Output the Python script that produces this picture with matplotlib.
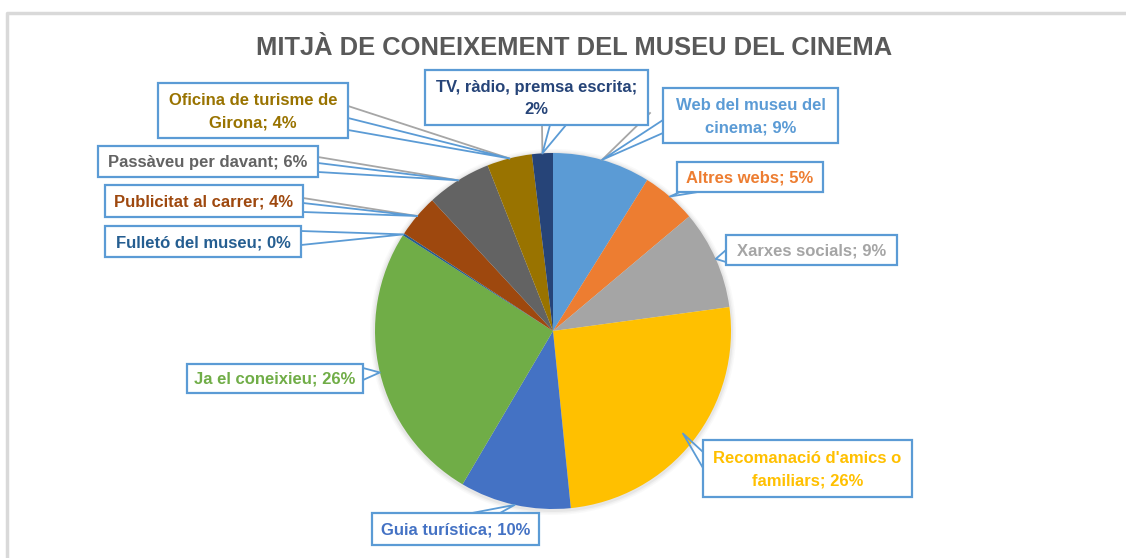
import matplotlib.pyplot as plt
from matplotlib.patches import Rectangle, Circle
import numpy as np

W, H = 1126, 558

names = ["Web del museu del\ncinema", "Altres webs", "Xarxes socials",
         "Recomanació d'amics o\nfamiliars", "Guia turística", "Ja el coneixieu",
         "Fulletó del museu", "Publicitat al carrer", "Passàveu per davant",
         "Oficina de turisme de\nGirona", "TV, ràdio, premsa escrita"]
values = [8.9, 5.0, 9.0, 25.6, 10.1, 25.6, 0.2, 3.9, 5.9, 4.1, 1.9]
colors = ["#5B9BD5", "#ED7D31", "#A5A5A5", "#FFC000", "#4472C4", "#70AD47",
          "#255E91", "#9E480E", "#636363", "#997300", "#264478"]

# label boxes in pixels (x0, y0, x1, y1), y downwards
boxes = [(663, 88, 838, 143), (677, 162, 823, 192), (726, 235, 897, 265),
         (703, 440, 912, 497), (372, 513, 539, 545), (187, 364, 363, 393),
         (105, 226, 301, 257), (105, 185, 303, 217), (98, 146, 318, 177),
         (158, 83, 348, 138), (425, 70, 648, 125)]
# callout base points on the box edge, and optional grey leader start
bases = [((663, 120), (663, 133)), ((680, 192), (698, 192)), ((726, 250), (726, 262)),
         ((703, 452), (703, 468)), ((472, 513), (500, 513)), ((363, 368), (363, 380)),
         ((301, 231), (301, 245)), ((303, 203), (303, 212)), ((318, 163), (318, 172)),
         ((348, 118), (348, 130)), ((550, 125), (566, 125))]
greys = [(650, 113), None, None, None, None, None, None, (303, 198), (318, 157),
         (348, 106), (542, 125)]
# how far out along the radius each callout points
reach = [1.0, 1.0, 1.0, 0.93, 1.0, 1.0, 1.0, 1.0, 1.0, 1.0, 1.0]

CX, CY, R = 553, 331, 178
FONT = ['Liberation Sans', 'DejaVu Sans']


def P(x, y):
    return x, H - y


fig = plt.figure(figsize=(W / 100, H / 100), dpi=100)
ax = fig.add_axes([0, 0, 1, 1])

# soft shadow round the pie
for k, a in [(5, 0.04), (3.5, 0.06), (2, 0.09)]:
    ax.add_patch(Circle(P(CX, CY + 1), R + k, facecolor="#7F7F7F", alpha=a,
                        edgecolor="none", zorder=0))

wedges, _ = ax.pie(values, colors=colors, startangle=90, counterclock=False,
                   center=P(CX, CY), radius=R, wedgeprops=dict(linewidth=0))
ax.set_xlim(0, W)
ax.set_ylim(0, H)
ax.set_aspect('equal')
ax.axis('off')

# outer chart border
ax.plot([7, 7, W + 5], [-5, H - 13, H - 13], color="#D9D9D9", lw=2.5, zorder=1)

ax.text(*P(574, 48), "MITJÀ DE CONEIXEMENT DEL MUSEU DEL CINEMA", ha="center",
        va="center", fontsize=18.4, fontweight="bold", color="#595959", family=FONT)

total = sum(values)
for i, w in enumerate(wedges):
    mid = np.deg2rad((w.theta1 + w.theta2) / 2)
    px = CX + reach[i] * R * np.cos(mid)
    py = CY - reach[i] * R * np.sin(mid)
    pct = round(values[i] / total * 100)
    sep = ";\n" if i == 10 else "; "
    txt = f"{names[i]}{sep}{pct}%"
    x0, y0, x1, y1 = boxes[i]
    if greys[i] is not None:
        gx, gy = greys[i]
        ax.plot([gx, px], [H - gy, H - py], color="#A6A6A6", lw=1.3, zorder=3)
    (b1x, b1y), (b2x, b2y) = bases[i]
    ax.plot([b1x, px, b2x], [H - b1y, H - py, H - b2y], color="#5B9BD5", lw=1.3, zorder=4)
    ax.add_patch(Rectangle(P(x0, y1), x1 - x0, y1 - y0, facecolor="white",
                           edgecolor="#5B9BD5", lw=1.6, zorder=5))
    ax.text(*P((x0 + x1) / 2, (y0 + y1) / 2 + 1), txt, ha="center", va="center",
            fontsize=12, fontweight="bold", color=colors[i], family=FONT,
            linespacing=1.65, zorder=6)

fig.savefig("out.png", dpi=100)
